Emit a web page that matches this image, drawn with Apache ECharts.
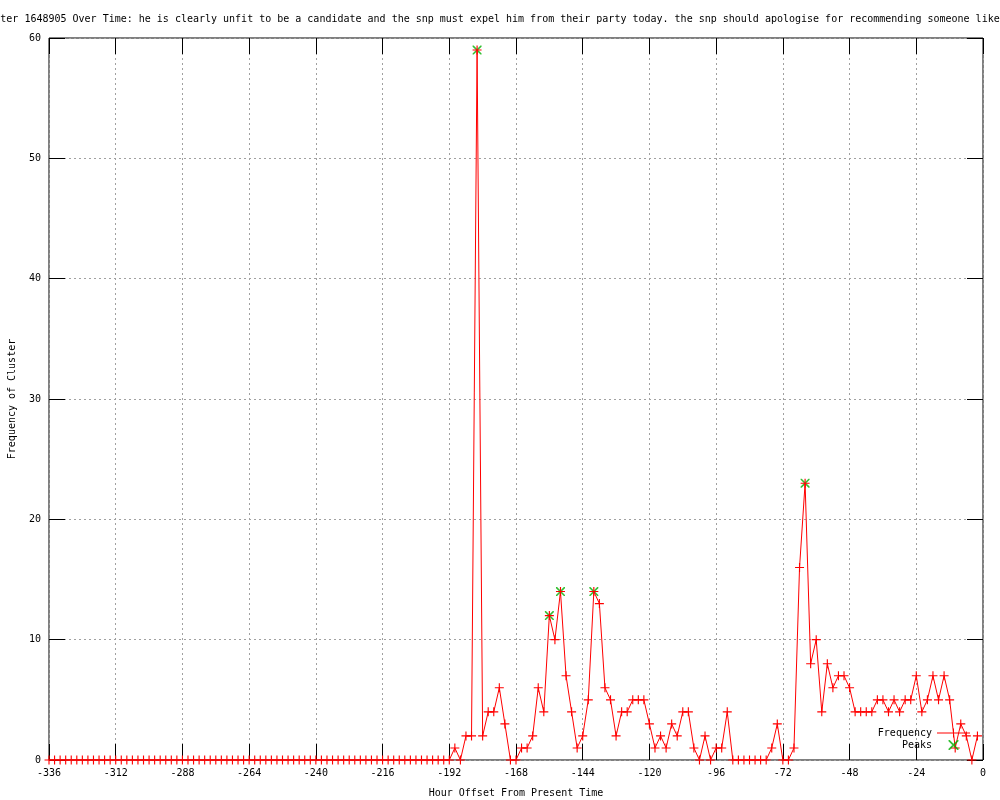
<!DOCTYPE html>
<html>
<head>
<meta charset="utf-8">
<script src="https://cdn.jsdelivr.net/npm/echarts@6/dist/echarts.min.js"></script>
<style>
html,body{margin:0;padding:0;background:#fff;}
#chart{width:1000px;height:800px;}
</style>
</head>
<body>
<div id="chart"></div>
<script>
// title is wider than the canvas in the original, only the visible part is kept
const titleText = "ter 1648905 Over Time: he is clearly unfit to be a candidate and the snp must expel him from their party today. the snp should apologise for recommending someone like";

// one value every 2 hours, from -336 up to -2
const startHour = -336;
const stepHours = 2;
const freq = [
	0,0,0,0,0,0,0,0,0,0,0,0,
	0,0,0,0,0,0,0,0,0,0,0,0,
	0,0,0,0,0,0,0,0,0,0,0,0,
	0,0,0,0,0,0,0,0,0,0,0,0,
	0,0,0,0,0,0,0,0,0,0,0,0,
	0,0,0,0,0,0,0,0,0,0,0,0,
	0, // -192
	1,0,2,2,59,2,4,4,6,3,0,0,     // -190 .. -168
	1,1,2,6,4,12,10,14,7,4,1,2,   // -166 .. -144
	5,14,13,6,5,2,4,4,5,5,5,3,    // -142 .. -120
	1,2,1,3,2,4,4,1,0,2,0,1,      // -118 .. -96
	1,4,0,0,0,0,0,0,0,1,3,0,      // -94 .. -72
	0,1,16,23,8,10,4,8,6,7,7,6,   // -70 .. -48
	4,4,4,4,5,5,4,5,4,5,5,7,      // -46 .. -24
	4,5,7,5,7,5,1,3,2,0,2         // -22 .. -2
];
const peakHours = [-182, -156, -152, -140, -64];
const peakValues = [59, 12, 14, 14, 23];

const xTicks = { min: -336, max: 0, step: 24 };
const yTicks = { min: 0, max: 60, step: 10 };

const hours = freq.map((v, i) => startHour + i * stepHours);

const mono = "DejaVu Sans Mono";
const plusSymbol = "path://M0,3.5L8,3.5L8,4.5L0,4.5Z M3.5,0L4.5,0L4.5,8L3.5,8Z";
const crossSymbol = "path://M0,0L1,0L8,7L8,8L7,8L0,1Z M7,0L8,0L8,1L1,8L0,8L0,7Z";
// legend sample: line with a + in the middle, like linespoints
const lineKeyIcon = "path://M0,4.5L33,4.5L33,5.5L0,5.5Z M16,0.5L17,0.5L17,9.5L16,9.5Z M12.5,4.5L20.5,4.5L20.5,5.5L12.5,5.5Z";

function axisBase(range, pos, main){
	return {
		type: "value",
		position: pos,
		min: range.min,
		max: range.max,
		interval: range.step,
		axisLine: { show: false, onZero: false },
		axisTick: { show: true, inside: true, length: 16, lineStyle: { color: "#000", width: 1 } },
		axisLabel: main ? { show: true, margin: 8, color: "#000", fontSize: 10, fontFamily: mono } : { show: false },
		splitLine: main ? { show: true, lineStyle: { color: "#a0a0a0", type: [2, 3], width: 1 } } : { show: false }
	};
}

const xMain = axisBase(xTicks, "bottom", true);
xMain.name = "Hour Offset From Present Time";
xMain.nameLocation = "middle";
xMain.nameGap = 28;
xMain.nameTextStyle = { color: "#000", fontSize: 10, fontFamily: mono };

const yMain = axisBase(yTicks, "left", true);
yMain.name = "Frequency of Cluster";
yMain.nameLocation = "middle";
yMain.nameGap = 32;
yMain.nameTextStyle = { color: "#000", fontSize: 10, fontFamily: mono };

const option = {
	animation: false,
	backgroundColor: "#fff",
	title: {
		text: titleText,
		left: "center",
		top: 14,
		padding: 0,
		textStyle: { color: "#000", fontSize: 10, fontWeight: "normal", fontFamily: mono }
	},
	grid: {
		left: 49, right: 17, top: 38, bottom: 40,
		outerBoundsMode: "none",
		containLabel: false,
		show: true, borderColor: "#000", borderWidth: 1, backgroundColor: "transparent"
	},
	legend: {
		data: [{ name: "Frequency", icon: lineKeyIcon }, { name: "Peaks" }],
		orient: "vertical",
		align: "right",
		right: 30,
		top: 728,
		padding: 0,
		itemWidth: 33,
		itemHeight: 10,
		itemGap: 2,
		selectedMode: false,
		textStyle: { color: "#000", fontSize: 10, fontFamily: mono }
	},
	xAxis: [xMain, axisBase(xTicks, "top", false)],
	yAxis: [yMain, axisBase(yTicks, "right", false)],
	series: [
		{
			name: "Frequency",
			type: "line",
			data: hours.map((h, i) => [h, freq[i]]),
			symbol: plusSymbol,
			symbolSize: 9,
			showAllSymbol: true,
			clip: false,
			z: 3,
			lineStyle: { color: "#ff0000", width: 1 },
			itemStyle: { color: "#ff0000" }
		},
		{
			name: "Peaks",
			type: "scatter",
			data: peakHours.map((h, i) => [h, peakValues[i]]),
			symbol: crossSymbol,
			symbolSize: 9,
			z: 2,
			itemStyle: { color: "#00b000" }
		}
	]
};

const myChart = echarts.init(document.getElementById("chart"));
myChart.setOption(option);
</script>
</body>
</html>
